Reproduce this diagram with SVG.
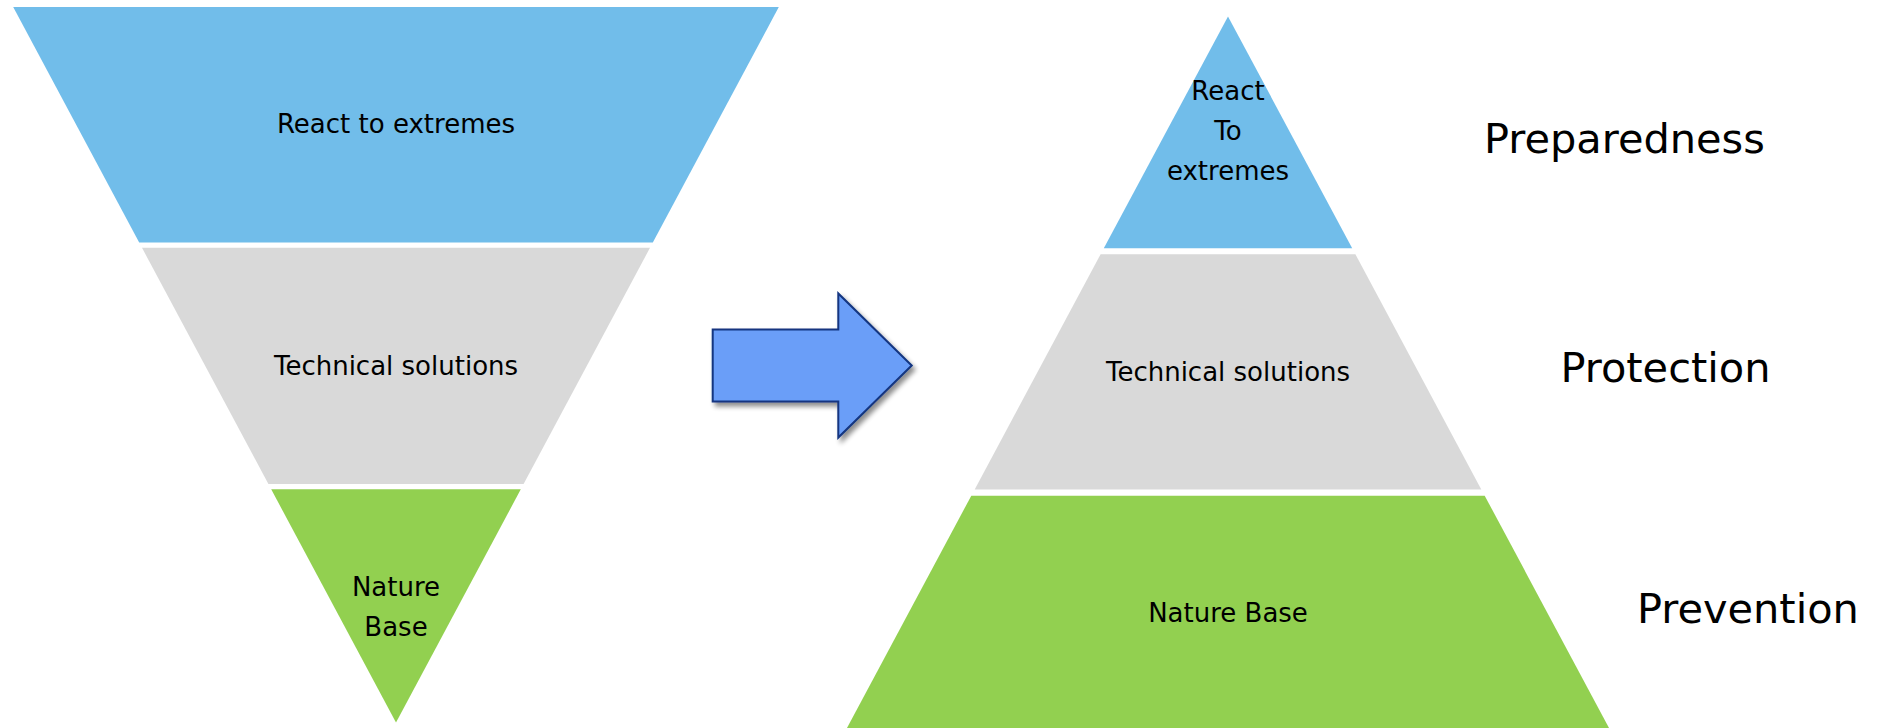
<svg xmlns="http://www.w3.org/2000/svg" width="1888" height="728" viewBox="0 0 1888 728">
  <defs>
    <style>
      .blue { fill: #71BDEA; }
      .grey { fill: #D9D9D9; }
      .green { fill: #92D050; }
      .lbl { font-family: "DejaVu Sans", Verdana, sans-serif; font-size: 26px; fill: #000; text-anchor: middle; }
      .big { font-family: "DejaVu Sans", Verdana, sans-serif; font-size: 41.5px; fill: #000; }
      .arrow { fill: #6B9EF8; stroke: #123580; stroke-width: 2; stroke-linejoin: miter; }
    </style>
    <filter id="shadow" x="-20%" y="-20%" width="150%" height="150%">
      <feGaussianBlur in="SourceAlpha" stdDeviation="2.5"/>
      <feOffset dx="3" dy="4" result="b"/>
      <feComponentTransfer><feFuncA type="linear" slope="0.45"/></feComponentTransfer>
      <feMerge><feMergeNode/><feMergeNode in="SourceGraphic"/></feMerge>
    </filter>
  </defs>
  <rect width="1888" height="728" fill="#FFFFFF"/>

  <g id="funnel-react">
    <polygon class="blue" points="13.2,7 778.8,7 652.8,242.5 139.2,242.5"/>
    <text class="lbl" x="396" y="133">React to extremes</text>
  </g>
  <g id="funnel-technical">
    <polygon class="grey" points="142,247.8 650,247.8 523.6,484 268.4,484"/>
    <text class="lbl" x="396" y="375">Technical solutions</text>
  </g>
  <g id="funnel-nature">
    <polygon class="green" points="271.2,489.3 520.8,489.3 396,722.5"/>
    <text class="lbl" x="396" y="596">Nature</text>
    <text class="lbl" x="396" y="636">Base</text>
  </g>

  <g id="connectors">
    <path class="arrow" filter="url(#shadow)" d="M712.7,329.5 H838.3 V293.5 L911.7,365.5 L838.3,437.5 V401.5 H712.7 Z"/>
  </g>

  <g id="pyramid-react">
    <polygon class="blue" points="1228,16.5 1352.2,248.3 1103.8,248.3"/>
    <text class="lbl" x="1228" y="99.5">React</text>
    <text class="lbl" x="1228" y="140">To</text>
    <text class="lbl" x="1228" y="180">extremes</text>
  </g>
  <g id="pyramid-technical">
    <polygon class="grey" points="1100.6,254.3 1355.4,254.3 1481.3,489.5 974.7,489.5"/>
    <text class="lbl" x="1228" y="381">Technical solutions</text>
  </g>
  <g id="pyramid-nature">
    <polygon class="green" points="971.3,495.7 1484.7,495.7 1610.1,730 845.9,730"/>
    <text class="lbl" x="1228" y="621.7">Nature Base</text>
  </g>

  <g id="label-preparedness">
    <text class="big" x="1484" y="153.3">Preparedness</text>
  </g>
  <g id="label-protection">
    <text class="big" x="1560.5" y="381.7">Protection</text>
  </g>
  <g id="label-prevention">
    <text class="big" x="1637" y="622.7">Prevention</text>
  </g>
</svg>
